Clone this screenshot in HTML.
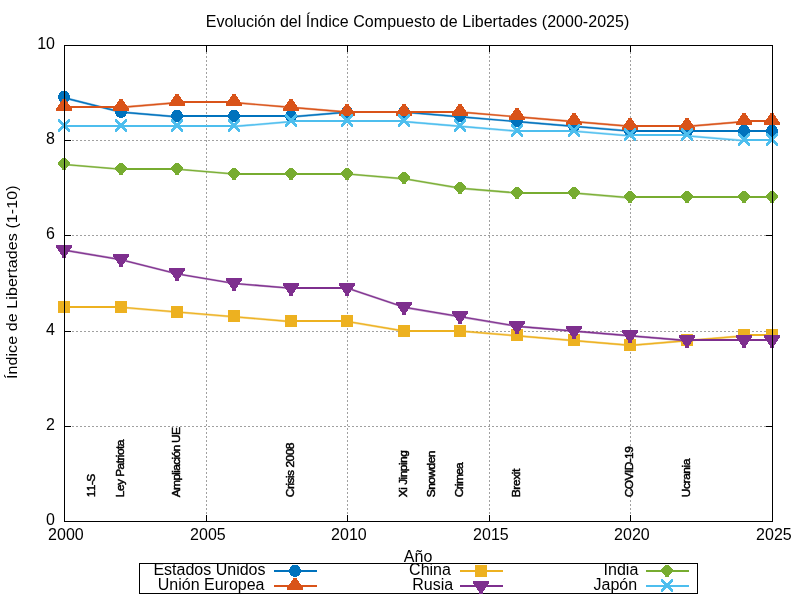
<!DOCTYPE html>
<html lang="es"><head><meta charset="utf-8">
<title>Evolución del Índice Compuesto de Libertades (2000-2025)</title>
<style>
html,body{margin:0;padding:0;background:#fff;}
body{width:800px;height:600px;overflow:hidden;}
svg{display:block;}
text{font-family:"Liberation Sans",Arial,Helvetica,sans-serif;fill:#000;}
.t16{font-size:16px;}
.t12{font-size:12px;font-kerning:none;}
.mk{shape-rendering:crispEdges;}
</style></head><body>
<svg width="800" height="600" viewBox="0 0 800 600">
<rect x="0" y="0" width="800" height="600" fill="#ffffff"/>
<text class="t16" x="417.55" y="26.5" text-anchor="middle" style="letter-spacing:0.035px">Evolución del Índice Compuesto de Libertades (2000-2025)</text>
<g stroke="#a0a0a0" stroke-width="1" stroke-dasharray="2 2" fill="none" shape-rendering="crispEdges">
<line x1="64" y1="426.5" x2="773" y2="426.5"/>
<line x1="64" y1="331.5" x2="773" y2="331.5"/>
<line x1="64" y1="235.5" x2="773" y2="235.5"/>
<line x1="64" y1="140.5" x2="773" y2="140.5"/>
<line x1="206.5" y1="522" x2="206.5" y2="45"/>
<line x1="347.5" y1="522" x2="347.5" y2="45"/>
<line x1="489.5" y1="522" x2="489.5" y2="45"/>
<line x1="630.5" y1="522" x2="630.5" y2="45"/>
</g>
<g stroke="#000" stroke-width="1" fill="none" shape-rendering="crispEdges">
<line x1="64.5" y1="521.5" x2="71" y2="521.5"/>
<line x1="772.5" y1="521.5" x2="766" y2="521.5"/>
<line x1="64.5" y1="426.5" x2="71" y2="426.5"/>
<line x1="772.5" y1="426.5" x2="766" y2="426.5"/>
<line x1="64.5" y1="331.5" x2="71" y2="331.5"/>
<line x1="772.5" y1="331.5" x2="766" y2="331.5"/>
<line x1="64.5" y1="235.5" x2="71" y2="235.5"/>
<line x1="772.5" y1="235.5" x2="766" y2="235.5"/>
<line x1="64.5" y1="140.5" x2="71" y2="140.5"/>
<line x1="772.5" y1="140.5" x2="766" y2="140.5"/>
<line x1="64.5" y1="45.5" x2="71" y2="45.5"/>
<line x1="772.5" y1="45.5" x2="766" y2="45.5"/>
<line x1="64.5" y1="521.5" x2="64.5" y2="515"/>
<line x1="64.5" y1="45.5" x2="64.5" y2="52"/>
<line x1="206.5" y1="521.5" x2="206.5" y2="515"/>
<line x1="206.5" y1="45.5" x2="206.5" y2="52"/>
<line x1="347.5" y1="521.5" x2="347.5" y2="515"/>
<line x1="347.5" y1="45.5" x2="347.5" y2="52"/>
<line x1="489.5" y1="521.5" x2="489.5" y2="515"/>
<line x1="489.5" y1="45.5" x2="489.5" y2="52"/>
<line x1="630.5" y1="521.5" x2="630.5" y2="515"/>
<line x1="630.5" y1="45.5" x2="630.5" y2="52"/>
<line x1="772.5" y1="521.5" x2="772.5" y2="515"/>
<line x1="772.5" y1="45.5" x2="772.5" y2="52"/>
</g>
<g class="t16">
<text x="55" y="525.2" text-anchor="end">0</text>
<text x="55" y="430.2" text-anchor="end">2</text>
<text x="55" y="335.2" text-anchor="end">4</text>
<text x="55" y="239.2" text-anchor="end">6</text>
<text x="55" y="144.2" text-anchor="end">8</text>
<text x="55" y="49.2" text-anchor="end">10</text>
<text x="65.9" y="539.6" text-anchor="middle">2000</text>
<text x="207.9" y="539.6" text-anchor="middle">2005</text>
<text x="348.9" y="539.6" text-anchor="middle">2010</text>
<text x="490.9" y="539.6" text-anchor="middle">2015</text>
<text x="631.9" y="539.6" text-anchor="middle">2020</text>
<text x="773.9" y="539.6" text-anchor="middle">2025</text>
</g>
<text class="t16" x="418.1" y="561.8" text-anchor="middle">Año</text>
<text class="t16" transform="translate(17.1 282.2) rotate(-90) scale(1 0.95)" text-anchor="middle" style="letter-spacing:0.1px">Índice de Libertades (1-10)</text>
<g class="t12" stroke="#000" stroke-width="0.5">
<text transform="translate(95 497.2) rotate(-90) scale(1 0.931)" style="letter-spacing:-0.594px">11-S</text>
<text transform="translate(124 497.2) rotate(-90) scale(1 0.931)" style="letter-spacing:-0.573px">Ley Patriota</text>
<text transform="translate(180 497.2) rotate(-90) scale(1 0.931)" style="letter-spacing:-0.697px">Ampliación UE</text>
<text transform="translate(294 497.2) rotate(-90) scale(1 0.931)" style="letter-spacing:-0.529px">Crisis 2008</text>
<text transform="translate(407 497.2) rotate(-90) scale(1 0.931)" style="letter-spacing:-0.543px">Xi Jinping</text>
<text transform="translate(435 497.2) rotate(-90) scale(1 0.931)" style="letter-spacing:-0.552px">Snowden</text>
<text transform="translate(463 497.2) rotate(-90) scale(1 0.931)" style="letter-spacing:-0.733px">Crimea</text>
<text transform="translate(520 497.2) rotate(-90) scale(1 0.931)" style="letter-spacing:-0.440px">Brexit</text>
<text transform="translate(633 497.2) rotate(-90) scale(1 0.931)" style="letter-spacing:-0.610px">COVID-19</text>
<text transform="translate(690 497.2) rotate(-90) scale(1 0.931)" style="letter-spacing:-0.437px">Ucrania</text>
</g>
<g>
<path d="M177 116L234 116M234 116L291 116M347 112L404 112M630 131L687 131M687 131L744 131M744 131L772 131" fill="none" stroke="#0072bd" stroke-width="2"/>
<path d="M64.5 97.86L121.14 112.14M121.14 112.14L177.78 116.9M291.06 116.9L347.7 112.14M404.34 112.14L460.98 116.9M460.98 116.9L517.62 121.66M517.62 121.66L574.26 126.42M574.26 126.42L630.9 131.18" fill="none" stroke="#0072bd" stroke-width="2.2" stroke-opacity="0.55"/>
<path d="M64.5 97.86L121.14 112.14M121.14 112.14L177.78 116.9M291.06 116.9L347.7 112.14M404.34 112.14L460.98 116.9M460.98 116.9L517.62 121.66M517.62 121.66L574.26 126.42M574.26 126.42L630.9 131.18" fill="none" stroke="#0072bd" stroke-width="1.1" stroke-opacity="1"/>
<g class="mk">
<ellipse cx="64" cy="96.85" rx="5.9" ry="6" fill="#0072bd"/>
<ellipse cx="121" cy="111.85" rx="5.9" ry="6" fill="#0072bd"/>
<ellipse cx="177" cy="115.85" rx="5.9" ry="6" fill="#0072bd"/>
<ellipse cx="234" cy="115.85" rx="5.9" ry="6" fill="#0072bd"/>
<ellipse cx="291" cy="115.85" rx="5.9" ry="6" fill="#0072bd"/>
<ellipse cx="347" cy="111.85" rx="5.9" ry="6" fill="#0072bd"/>
<ellipse cx="404" cy="111.85" rx="5.9" ry="6" fill="#0072bd"/>
<ellipse cx="460" cy="115.85" rx="5.9" ry="6" fill="#0072bd"/>
<ellipse cx="517" cy="120.85" rx="5.9" ry="6" fill="#0072bd"/>
<ellipse cx="574" cy="125.85" rx="5.9" ry="6" fill="#0072bd"/>
<ellipse cx="630" cy="130.85" rx="5.9" ry="6" fill="#0072bd"/>
<ellipse cx="687" cy="130.85" rx="5.9" ry="6" fill="#0072bd"/>
<ellipse cx="744" cy="130.85" rx="5.9" ry="6" fill="#0072bd"/>
<ellipse cx="772" cy="130.85" rx="5.9" ry="6" fill="#0072bd"/>
</g></g>
<g>
<path d="M64 107L121 107M177 102L234 102M347 112L404 112M404 112L460 112M630 126L687 126M744 121L772 121" fill="none" stroke="#d95319" stroke-width="2"/>
<path d="M121.14 107.38L177.78 102.62M234.42 102.62L291.06 107.38M291.06 107.38L347.7 112.14M460.98 112.14L517.62 116.9M517.62 116.9L574.26 121.66M574.26 121.66L630.9 126.42M687.54 126.42L744.18 121.66" fill="none" stroke="#d95319" stroke-width="2.2" stroke-opacity="0.55"/>
<path d="M121.14 107.38L177.78 102.62M234.42 102.62L291.06 107.38M291.06 107.38L347.7 112.14M460.98 112.14L517.62 116.9M517.62 116.9L574.26 121.66M574.26 121.66L630.9 126.42M687.54 126.42L744.18 121.66" fill="none" stroke="#d95319" stroke-width="1.1" stroke-opacity="1"/>
<g class="mk">
<polygon points="62.73,99 65.27,99 72,109.1 72,111 56,111 56,109.1" fill="#d95319"/>
<polygon points="119.73,99 122.27,99 129,109.1 129,111 113,111 113,109.1" fill="#d95319"/>
<polygon points="175.73,94 178.27,94 185,104.1 185,106 169,106 169,104.1" fill="#d95319"/>
<polygon points="232.73,94 235.27,94 242,104.1 242,106 226,106 226,104.1" fill="#d95319"/>
<polygon points="289.73,99 292.27,99 299,109.1 299,111 283,111 283,109.1" fill="#d95319"/>
<polygon points="345.73,104 348.27,104 355,114.1 355,116 339,116 339,114.1" fill="#d95319"/>
<polygon points="402.73,104 405.27,104 412,114.1 412,116 396,116 396,114.1" fill="#d95319"/>
<polygon points="458.73,104 461.27,104 468,114.1 468,116 452,116 452,114.1" fill="#d95319"/>
<polygon points="515.73,108 518.27,108 525,118.1 525,120 509,120 509,118.1" fill="#d95319"/>
<polygon points="572.73,113 575.27,113 582,123.1 582,125 566,125 566,123.1" fill="#d95319"/>
<polygon points="628.73,118 631.27,118 638,128.1 638,130 622,130 622,128.1" fill="#d95319"/>
<polygon points="685.73,118 688.27,118 695,128.1 695,130 679,130 679,128.1" fill="#d95319"/>
<polygon points="742.73,113 745.27,113 752,123.1 752,125 736,125 736,123.1" fill="#d95319"/>
<polygon points="770.73,113 773.27,113 780,123.1 780,125 764,125 764,123.1" fill="#d95319"/>
</g></g>
<g>
<path d="M64 307L121 307M291 321L347 321M404 331L460 331M744 335L772 335" fill="none" stroke="#edb120" stroke-width="2"/>
<path d="M121.14 307.3L177.78 312.06M177.78 312.06L234.42 316.82M234.42 316.82L291.06 321.58M347.7 321.58L404.34 331.1M460.98 331.1L517.62 335.86M517.62 335.86L574.26 340.62M574.26 340.62L630.9 345.38M630.9 345.38L687.54 340.62M687.54 340.62L744.18 335.86" fill="none" stroke="#edb120" stroke-width="2.2" stroke-opacity="0.55"/>
<path d="M121.14 307.3L177.78 312.06M177.78 312.06L234.42 316.82M234.42 316.82L291.06 321.58M347.7 321.58L404.34 331.1M460.98 331.1L517.62 335.86M517.62 335.86L574.26 340.62M574.26 340.62L630.9 345.38M630.9 345.38L687.54 340.62M687.54 340.62L744.18 335.86" fill="none" stroke="#edb120" stroke-width="1.1" stroke-opacity="1"/>
<g class="mk">
<polygon points="58,301 70,301 70,313 58,313" fill="#edb120"/>
<polygon points="115,301 127,301 127,313 115,313" fill="#edb120"/>
<polygon points="171,306 183,306 183,318 171,318" fill="#edb120"/>
<polygon points="228,310 240,310 240,322 228,322" fill="#edb120"/>
<polygon points="285,315 297,315 297,327 285,327" fill="#edb120"/>
<polygon points="341,315 353,315 353,327 341,327" fill="#edb120"/>
<polygon points="398,325 410,325 410,337 398,337" fill="#edb120"/>
<polygon points="454,325 466,325 466,337 454,337" fill="#edb120"/>
<polygon points="511,329 523,329 523,341 511,341" fill="#edb120"/>
<polygon points="568,334 580,334 580,346 568,346" fill="#edb120"/>
<polygon points="624,339 636,339 636,351 624,351" fill="#edb120"/>
<polygon points="681,334 693,334 693,346 681,346" fill="#edb120"/>
<polygon points="738,329 750,329 750,341 738,341" fill="#edb120"/>
<polygon points="766,329 778,329 778,341 766,341" fill="#edb120"/>
</g></g>
<g>
<path d="M291 288L347 288M687 340L744 340M744 340L772 340" fill="none" stroke="#7e2f8e" stroke-width="2"/>
<path d="M64.5 250.18L121.14 259.7M121.14 259.7L177.78 273.98M177.78 273.98L234.42 283.5M234.42 283.5L291.06 288.26M347.7 288.26L404.34 307.3M404.34 307.3L460.98 316.82M460.98 316.82L517.62 326.34M517.62 326.34L574.26 331.1M574.26 331.1L630.9 335.86M630.9 335.86L687.54 340.62" fill="none" stroke="#7e2f8e" stroke-width="2.2" stroke-opacity="0.55"/>
<path d="M64.5 250.18L121.14 259.7M121.14 259.7L177.78 273.98M177.78 273.98L234.42 283.5M234.42 283.5L291.06 288.26M347.7 288.26L404.34 307.3M404.34 307.3L460.98 316.82M460.98 316.82L517.62 326.34M517.62 326.34L574.26 331.1M574.26 331.1L630.9 335.86M630.9 335.86L687.54 340.62" fill="none" stroke="#7e2f8e" stroke-width="1.1" stroke-opacity="1"/>
<g class="mk">
<polygon points="56,245 72,245 72,246.9 65.6,256.5 65.6,258 62.4,258 62.4,256.5 56,246.9" fill="#7e2f8e"/>
<polygon points="113,254 129,254 129,255.9 122.6,265.5 122.6,267 119.4,267 119.4,265.5 113,255.9" fill="#7e2f8e"/>
<polygon points="169,268 185,268 185,269.9 178.6,279.5 178.6,281 175.4,281 175.4,279.5 169,269.9" fill="#7e2f8e"/>
<polygon points="226,278 242,278 242,279.9 235.6,289.5 235.6,291 232.4,291 232.4,289.5 226,279.9" fill="#7e2f8e"/>
<polygon points="283,283 299,283 299,284.9 292.6,294.5 292.6,296 289.4,296 289.4,294.5 283,284.9" fill="#7e2f8e"/>
<polygon points="339,283 355,283 355,284.9 348.6,294.5 348.6,296 345.4,296 345.4,294.5 339,284.9" fill="#7e2f8e"/>
<polygon points="396,302 412,302 412,303.9 405.6,313.5 405.6,315 402.4,315 402.4,313.5 396,303.9" fill="#7e2f8e"/>
<polygon points="452,311 468,311 468,312.9 461.6,322.5 461.6,324 458.4,324 458.4,322.5 452,312.9" fill="#7e2f8e"/>
<polygon points="509,321 525,321 525,322.9 518.6,332.5 518.6,334 515.4,334 515.4,332.5 509,322.9" fill="#7e2f8e"/>
<polygon points="566,326 582,326 582,327.9 575.6,337.5 575.6,339 572.4,339 572.4,337.5 566,327.9" fill="#7e2f8e"/>
<polygon points="622,330 638,330 638,331.9 631.6,341.5 631.6,343 628.4,343 628.4,341.5 622,331.9" fill="#7e2f8e"/>
<polygon points="679,335 695,335 695,336.9 688.6,346.5 688.6,348 685.4,348 685.4,346.5 679,336.9" fill="#7e2f8e"/>
<polygon points="736,335 752,335 752,336.9 745.6,346.5 745.6,348 742.4,348 742.4,346.5 736,336.9" fill="#7e2f8e"/>
<polygon points="764,335 780,335 780,336.9 773.6,346.5 773.6,348 770.4,348 770.4,346.5 764,336.9" fill="#7e2f8e"/>
</g></g>
<g>
<path d="M121 169L177 169M234 174L291 174M291 174L347 174M517 193L574 193M630 197L687 197M687 197L744 197M744 197L772 197" fill="none" stroke="#77ac30" stroke-width="2"/>
<path d="M64.5 164.5L121.14 169.26M177.78 169.26L234.42 174.02M347.7 174.02L404.34 178.78M404.34 178.78L460.98 188.3M460.98 188.3L517.62 193.06M574.26 193.06L630.9 197.82" fill="none" stroke="#77ac30" stroke-width="2.2" stroke-opacity="0.55"/>
<path d="M64.5 164.5L121.14 169.26M177.78 169.26L234.42 174.02M347.7 174.02L404.34 178.78M404.34 178.78L460.98 188.3M460.98 188.3L517.62 193.06M574.26 193.06L630.9 197.82" fill="none" stroke="#77ac30" stroke-width="1.1" stroke-opacity="1"/>
<g class="mk">
<polygon points="62.1,158 65.9,158 70,162.1 70,164.9 65.9,169 65.9,170 62.1,170 62.1,169 58,164.9 58,162.1" fill="#77ac30"/>
<polygon points="119.1,163 122.9,163 127,167.1 127,169.9 122.9,174 122.9,175 119.1,175 119.1,174 115,169.9 115,167.1" fill="#77ac30"/>
<polygon points="175.1,163 178.9,163 183,167.1 183,169.9 178.9,174 178.9,175 175.1,175 175.1,174 171,169.9 171,167.1" fill="#77ac30"/>
<polygon points="232.1,168 235.9,168 240,172.1 240,174.9 235.9,179 235.9,180 232.1,180 232.1,179 228,174.9 228,172.1" fill="#77ac30"/>
<polygon points="289.1,168 292.9,168 297,172.1 297,174.9 292.9,179 292.9,180 289.1,180 289.1,179 285,174.9 285,172.1" fill="#77ac30"/>
<polygon points="345.1,168 348.9,168 353,172.1 353,174.9 348.9,179 348.9,180 345.1,180 345.1,179 341,174.9 341,172.1" fill="#77ac30"/>
<polygon points="402.1,172 405.9,172 410,176.1 410,178.9 405.9,183 405.9,184 402.1,184 402.1,183 398,178.9 398,176.1" fill="#77ac30"/>
<polygon points="458.1,182 461.9,182 466,186.1 466,188.9 461.9,193 461.9,194 458.1,194 458.1,193 454,188.9 454,186.1" fill="#77ac30"/>
<polygon points="515.1,187 518.9,187 523,191.1 523,193.9 518.9,198 518.9,199 515.1,199 515.1,198 511,193.9 511,191.1" fill="#77ac30"/>
<polygon points="572.1,187 575.9,187 580,191.1 580,193.9 575.9,198 575.9,199 572.1,199 572.1,198 568,193.9 568,191.1" fill="#77ac30"/>
<polygon points="628.1,191 631.9,191 636,195.1 636,197.9 631.9,202 631.9,203 628.1,203 628.1,202 624,197.9 624,195.1" fill="#77ac30"/>
<polygon points="685.1,191 688.9,191 693,195.1 693,197.9 688.9,202 688.9,203 685.1,203 685.1,202 681,197.9 681,195.1" fill="#77ac30"/>
<polygon points="742.1,191 745.9,191 750,195.1 750,197.9 745.9,202 745.9,203 742.1,203 742.1,202 738,197.9 738,195.1" fill="#77ac30"/>
<polygon points="770.1,191 773.9,191 778,195.1 778,197.9 773.9,202 773.9,203 770.1,203 770.1,202 766,197.9 766,195.1" fill="#77ac30"/>
</g></g>
<g>
<path d="M64 126L121 126M121 126L177 126M177 126L234 126M291 121L347 121M347 121L404 121M517 131L574 131M630 135L687 135M744 140L772 140" fill="none" stroke="#4dbeee" stroke-width="2"/>
<path d="M234.42 126.42L291.06 121.66M404.34 121.66L460.98 126.42M460.98 126.42L517.62 131.18M574.26 131.18L630.9 135.94M687.54 135.94L744.18 140.7" fill="none" stroke="#4dbeee" stroke-width="2.2" stroke-opacity="0.55"/>
<path d="M234.42 126.42L291.06 121.66M404.34 121.66L460.98 126.42M460.98 126.42L517.62 131.18M574.26 131.18L630.9 135.94M687.54 135.94L744.18 140.7" fill="none" stroke="#4dbeee" stroke-width="1.1" stroke-opacity="1"/>
<g class="mk">
<polygon points="58,119 59.2,119 70,129.8 70,132 68.8,132 58,121.2" fill="#4dbeee"/><polygon points="70,119 68.8,119 58,129.8 58,132 59.2,132 70,121.2" fill="#4dbeee"/>
<polygon points="115,119 116.2,119 127,129.8 127,132 125.8,132 115,121.2" fill="#4dbeee"/><polygon points="127,119 125.8,119 115,129.8 115,132 116.2,132 127,121.2" fill="#4dbeee"/>
<polygon points="171,119 172.2,119 183,129.8 183,132 181.8,132 171,121.2" fill="#4dbeee"/><polygon points="183,119 181.8,119 171,129.8 171,132 172.2,132 183,121.2" fill="#4dbeee"/>
<polygon points="228,119 229.2,119 240,129.8 240,132 238.8,132 228,121.2" fill="#4dbeee"/><polygon points="240,119 238.8,119 228,129.8 228,132 229.2,132 240,121.2" fill="#4dbeee"/>
<polygon points="285,114 286.2,114 297,124.8 297,127 295.8,127 285,116.2" fill="#4dbeee"/><polygon points="297,114 295.8,114 285,124.8 285,127 286.2,127 297,116.2" fill="#4dbeee"/>
<polygon points="341,114 342.2,114 353,124.8 353,127 351.8,127 341,116.2" fill="#4dbeee"/><polygon points="353,114 351.8,114 341,124.8 341,127 342.2,127 353,116.2" fill="#4dbeee"/>
<polygon points="398,114 399.2,114 410,124.8 410,127 408.8,127 398,116.2" fill="#4dbeee"/><polygon points="410,114 408.8,114 398,124.8 398,127 399.2,127 410,116.2" fill="#4dbeee"/>
<polygon points="454,119 455.2,119 466,129.8 466,132 464.8,132 454,121.2" fill="#4dbeee"/><polygon points="466,119 464.8,119 454,129.8 454,132 455.2,132 466,121.2" fill="#4dbeee"/>
<polygon points="511,124 512.2,124 523,134.8 523,137 521.8,137 511,126.2" fill="#4dbeee"/><polygon points="523,124 521.8,124 511,134.8 511,137 512.2,137 523,126.2" fill="#4dbeee"/>
<polygon points="568,124 569.2,124 580,134.8 580,137 578.8,137 568,126.2" fill="#4dbeee"/><polygon points="580,124 578.8,124 568,134.8 568,137 569.2,137 580,126.2" fill="#4dbeee"/>
<polygon points="624,128 625.2,128 636,138.8 636,141 634.8,141 624,130.2" fill="#4dbeee"/><polygon points="636,128 634.8,128 624,138.8 624,141 625.2,141 636,130.2" fill="#4dbeee"/>
<polygon points="681,128 682.2,128 693,138.8 693,141 691.8,141 681,130.2" fill="#4dbeee"/><polygon points="693,128 691.8,128 681,138.8 681,141 682.2,141 693,130.2" fill="#4dbeee"/>
<polygon points="738,133 739.2,133 750,143.8 750,146 748.8,146 738,135.2" fill="#4dbeee"/><polygon points="750,133 748.8,133 738,143.8 738,146 739.2,146 750,135.2" fill="#4dbeee"/>
<polygon points="766,133 767.2,133 778,143.8 778,146 776.8,146 766,135.2" fill="#4dbeee"/><polygon points="778,133 776.8,133 766,143.8 766,146 767.2,146 778,135.2" fill="#4dbeee"/>
</g></g>
<rect x="64.5" y="45.5" width="708" height="476" fill="none" stroke="#000" stroke-width="1" shape-rendering="crispEdges"/>
<rect x="139.5" y="563.5" width="558" height="30" fill="#fff" stroke="#000" stroke-width="1" shape-rendering="crispEdges"/>
<clipPath id="kc"><rect x="139.5" y="564" width="558" height="40"/></clipPath>
<g clip-path="url(#kc)" class="t16">
<text x="265.5" y="574.5" text-anchor="end">Estados Unidos</text>
<text x="264.5" y="589.5" text-anchor="end">Unión Europea</text>
<text x="450.9" y="574.5" text-anchor="end">China</text>
<text x="453.2" y="589.5" text-anchor="end">Rusia</text>
<text x="638.3" y="574.5" text-anchor="end">India</text>
<text x="637.1" y="589.5" text-anchor="end">Japón</text>
</g>
<g class="mk">
<line x1="274" y1="571" x2="317" y2="571" stroke="#0072bd" stroke-width="2"/>
<ellipse cx="295" cy="570.85" rx="5.9" ry="6" fill="#0072bd"/>
</g>
<g class="mk">
<line x1="274" y1="586" x2="317" y2="586" stroke="#d95319" stroke-width="2"/>
<polygon points="293.73,578 296.27,578 303,588.1 303,590 287,590 287,588.1" fill="#d95319"/>
</g>
<g class="mk">
<line x1="460" y1="571" x2="503" y2="571" stroke="#edb120" stroke-width="2"/>
<polygon points="475,565 487,565 487,577 475,577" fill="#edb120"/>
</g>
<g class="mk">
<line x1="460" y1="586" x2="503" y2="586" stroke="#7e2f8e" stroke-width="2"/>
<polygon points="473,581 489,581 489,582.9 482.6,592.5 482.6,594 479.4,594 479.4,592.5 473,582.9" fill="#7e2f8e"/>
</g>
<g class="mk">
<line x1="646" y1="571" x2="689" y2="571" stroke="#77ac30" stroke-width="2"/>
<polygon points="665.1,565 668.9,565 673,569.1 673,571.9 668.9,576 668.9,577 665.1,577 665.1,576 661,571.9 661,569.1" fill="#77ac30"/>
</g>
<g class="mk">
<line x1="646" y1="586" x2="689" y2="586" stroke="#4dbeee" stroke-width="2"/>
<polygon points="661,579 662.2,579 673,589.8 673,592 671.8,592 661,581.2" fill="#4dbeee"/><polygon points="673,579 671.8,579 661,589.8 661,592 662.2,592 673,581.2" fill="#4dbeee"/>
</g>
</svg>
</body></html>
